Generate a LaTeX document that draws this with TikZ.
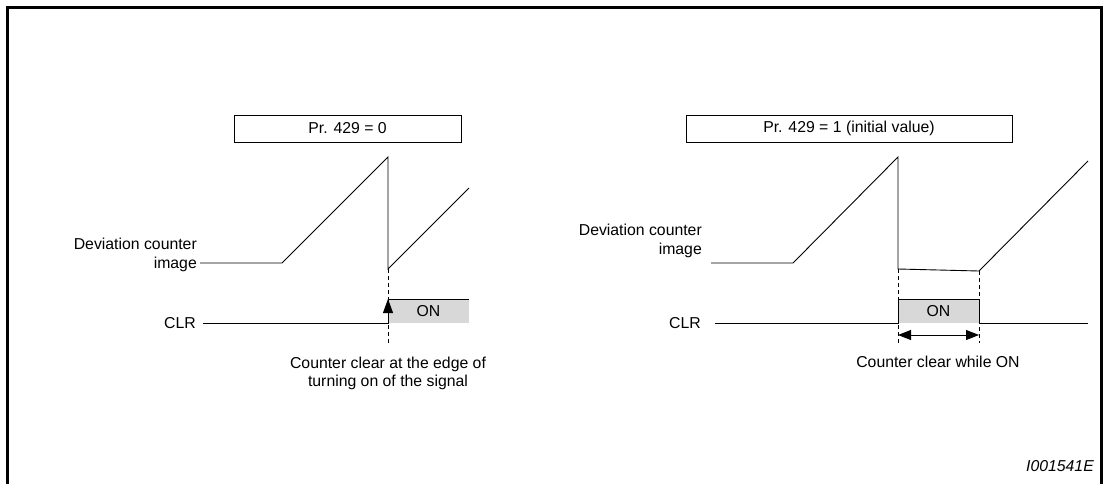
\documentclass[tikz,border=0pt]{standalone}
\usepackage{fontspec}
\setmainfont{Liberation Sans}
\usetikzlibrary{arrows.meta, positioning}
\definecolor{ongray}{RGB}{216,216,216}

\begin{document}
\begin{tikzpicture}[x=1pt, y=-1pt,
  wave/.style={draw=black, line width=0.9pt},
  prbox/.style={draw=black, line width=0.9pt, minimum height=27pt, inner sep=0pt, font=\fontsize{15.8}{18.5}\selectfont},
  lbl/.style={inner sep=0pt, font=\fontsize{15.8}{18.5}\selectfont},
  onbox/.style={fill=ongray, draw=none},
  guide/.style={draw=black, line width=0.8pt, dash pattern=on 4pt off 3pt},
  edge/.style={-{Triangle[length=14pt, width=10pt]}, line width=0.9pt},
  span/.style={{Triangle[length=13pt, width=10pt]}-{Triangle[length=13pt, width=10pt]}, line width=0.9pt}
]
  \useasboundingbox (0,0) rectangle (1104,483);
  % frame
  \draw[line width=3pt] (7,484) -- (7,7) -- (1101,7) -- (1101,484);

  % ---- Pr. 429 = 0 ----
  \node[prbox, minimum width=227pt] (boxA) at (347.5,128.5) {Pr. 429 = 0};
  \coordinate (a0) at (200,263);
  \coordinate (a1) at (282,263);
  \coordinate (a2) at (388,157);
  \coordinate (a3) at (388,269);
  \coordinate (a4) at (469,188);
  \coordinate (c0) at (203,323);
  \coordinate (cup) at (388,299);
  \coordinate (cend) at (469,299);
  \coordinate (g0) at (388,345);
  \fill[onbox] (cup) rectangle (469,323);
  \node[lbl] (onA) at (428.5,311) {ON};
  \draw[guide] (a3) -- (g0);
  \draw[wave] (a0) -- (a1) -- (a2) -- (a3) -- (a4);
  \draw[wave] (c0) -- (388,323) -- (cup) -- (cend);
  \draw[edge] (388,323) -- (cup);
  \node[lbl, anchor=east, align=right] (devA) at (197,255) {Deviation counter\\image};
  \node[lbl, anchor=east] (clrA) at (196,323) {CLR};
  \node[lbl, align=center] (noteA) at (388,373.5) {Counter clear at the edge of\\turning on of the signal};

  % ---- Pr. 429 = 1 ----
  \node[prbox, minimum width=326pt] (boxB) at (849,128.5) {Pr. 429 = 1 (initial value)};
  \coordinate (b0) at (711,263);
  \coordinate (b1) at (793,263);
  \coordinate (b2) at (898,157);
  \coordinate (b3) at (898,269);
  \coordinate (b4) at (979,271);
  \coordinate (b5) at (1088,161);
  \coordinate (d0) at (715,323);
  \coordinate (dup) at (898,299);
  \coordinate (ddn) at (979,299);
  \coordinate (d5) at (1088,323);
  \coordinate (h0) at (898,343);
  \coordinate (h1) at (979,343);
  \fill[onbox] (dup) rectangle (979,323);
  \node[lbl] (onB) at (938.5,311) {ON};
  \draw[guide] (b3) -- (h0);
  \draw[guide] (b4) -- (h1);
  \draw[wave] (b0) -- (b1) -- (b2) -- (b3) -- (b4) -- (b5);
  \draw[wave] (d0) -- (898,323) -- (dup) -- (ddn) -- (979,323) -- (d5);
  \draw[span] (898,335) -- (979,335);
  \node[lbl, anchor=east, align=right] (devB) at (702,241) {Deviation counter\\image};
  \node[lbl, anchor=east] (clrB) at (701,323) {CLR};
  \node[lbl] (noteB) at (938,362) {Counter clear while ON};

  \node[lbl, anchor=east, font=\fontsize{15.8}{18.5}\selectfont\itshape] (code) at (1094,466) {I001541E};
\end{tikzpicture}
\end{document}
